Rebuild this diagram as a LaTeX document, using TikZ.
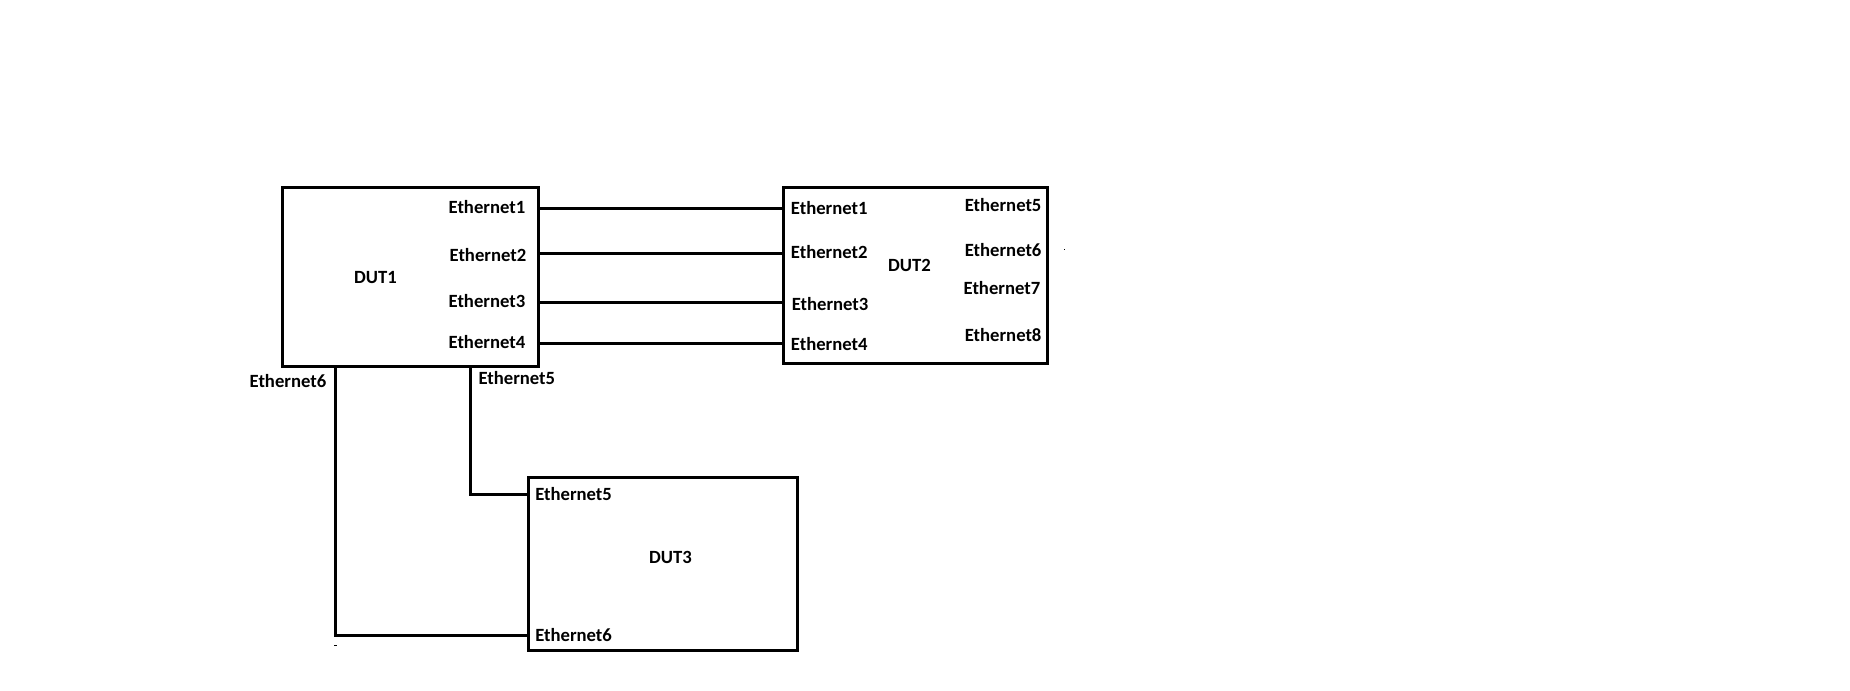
\documentclass[tikz,border=0pt]{standalone}
\usepackage{fontspec}
\setmainfont{Carlito}
\begin{document}
\begin{tikzpicture}[x=0.75pt,y=-0.75pt,
  box/.style={draw,line width=2.25pt,inner sep=0pt,fill=white},
  wire/.style={line width=2.25pt,line join=miter},
  lbl/.style={inner sep=0pt,font=\bfseries\fontsize{14pt}{16pt}\selectfont}]
\useasboundingbox (0,0) rectangle (1850,690);
% boxes
\node[box,minimum width=192pt,minimum height=134.25pt] (d1) at (410,276.5) {};
\node[box,minimum width=198pt,minimum height=132pt] (d2) at (915.5,275) {};
\node[box,minimum width=201.4pt,minimum height=129.4pt] (d3) at (663.2,564.2) {};
% port coordinates
\coordinate (a1) at (d1.east |- 0,208.5);
\coordinate (a2) at (d1.east |- 0,253);
\coordinate (a3) at (d1.east |- 0,302);
\coordinate (a4) at (d1.east |- 0,343.5);
\coordinate (b1) at (d2.west |- 0,208.5);
\coordinate (b2) at (d2.west |- 0,253);
\coordinate (b3) at (d2.west |- 0,302);
\coordinate (b4) at (d2.west |- 0,343.5);
\coordinate (a5) at (d1.south -| 470.5,0);
\coordinate (a6) at (d1.south -| 335.5,0);
\coordinate (c5) at (d3.west |- 0,494.3);
\coordinate (c6) at (d3.west |- 0,635);
% wires
\draw[wire] (a1) -- (b1);
\draw[wire] (a2) -- (b2);
\draw[wire] (a3) -- (b3);
\draw[wire] (a4) -- (b4);
\draw[wire] (a5) |- (c5);
\draw[wire] (a6) |- (c6);
% DUT1 labels
\node[lbl] (t1) at (375.5,277.3) {DUT1};
\node[lbl,anchor=east] (t1e1) at (525.5,207.5) {Ethernet1};
\node[lbl,anchor=east] (t1e2) at (526.5,255) {Ethernet2};
\node[lbl,anchor=east] (t1e3) at (525.5,301.5) {Ethernet3};
\node[lbl,anchor=east] (t1e4) at (525.5,342) {Ethernet4};
\node[lbl,anchor=east] (t1e6) at (326.5,381) {Ethernet6};
\node[lbl,anchor=west] (t1e5) at (478.3,378.5) {Ethernet5};
% DUT2 labels
\node[lbl] (t2) at (909.5,265) {DUT2};
\node[lbl,anchor=west] (t2e1) at (790.7,208.3) {Ethernet1};
\node[lbl,anchor=west] (t2e2) at (790.7,251.7) {Ethernet2};
\node[lbl,anchor=west] (t2e3) at (791.5,304) {Ethernet3};
\node[lbl,anchor=west] (t2e4) at (790.7,344) {Ethernet4};
\node[lbl,anchor=east] (t2e5) at (1041.7,205) {Ethernet5};
\node[lbl,anchor=east] (t2e6) at (1041.7,250) {Ethernet6};
\node[lbl,anchor=east] (t2e7) at (1040.5,287.7) {Ethernet7};
\node[lbl,anchor=east] (t2e8) at (1041.7,335) {Ethernet8};
% DUT3 labels
\node[lbl] (t3) at (670.5,557.3) {DUT3};
\node[lbl,anchor=west] (t3e5) at (535,494) {Ethernet5};
\node[lbl,anchor=west] (t3e6) at (535,635) {Ethernet6};
% stray marks
\fill (1063.5,248.5) rectangle (1064.7,249.7);
\fill (334,644.5) rectangle (336.5,645.7);
\end{tikzpicture}
\end{document}
